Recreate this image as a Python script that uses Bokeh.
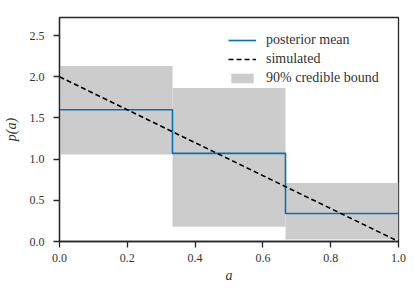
from bokeh.plotting import figure
from bokeh.models import Range1d, FixedTicker, NumeralTickFormatter, Legend, LegendItem
from bokeh.embed import file_html
from bokeh.resources import INLINE

# data
bin_edges = [0.0, 1/3, 2/3, 1.0]
posterior_mean = [1.60, 1.07, 0.34]
bound_lower = [1.055, 0.18, 0.025]
bound_upper = [2.13, 1.865, 0.71]
sim_a = [0.0, 1.0]
sim_p = [2.0, 0.0]
x_ticks = [0.0, 0.2, 0.4, 0.6, 0.8, 1.0]
y_ticks = [0.0, 0.5, 1.0, 1.5, 2.0, 2.5]

FONT = "Liberation Serif"
AXC = "#262626"

p = figure(frame_width=339, frame_height=224, output_backend="svg", toolbar_location=None,
           x_range=Range1d(0, 1), y_range=Range1d(0, 2.72),
           min_border_left=58, min_border_right=10, min_border_top=17, min_border_bottom=45)
p.background_fill_color = "white"
p.border_fill_color = "white"
p.grid.visible = False
p.outline_line_color = AXC
p.outline_line_width = 1.3

band = p.quad(left=bin_edges[:-1], right=bin_edges[1:], bottom=bound_lower, top=bound_upper,
              fill_color="#cccccc", line_color=None)
mean = p.step(x=bin_edges, y=posterior_mean + [posterior_mean[-1]], mode="after",
              line_color="#0173b2", line_width=1.6)
sim = p.line(x=sim_a, y=sim_p, line_color="black", line_width=1.6, line_dash="5 3")

for ax in (p.xaxis[0], p.yaxis[0]):
    ax.axis_line_color = AXC
    ax.axis_line_width = 1.3
    ax.major_tick_line_color = AXC
    ax.major_tick_line_width = 1.3
    ax.major_tick_out = 6
    ax.major_tick_in = 0
    ax.minor_tick_line_color = None
    ax.major_label_text_font = FONT
    ax.major_label_text_font_size = "12px"
    ax.major_label_text_color = "#333333"
    ax.axis_label_text_font = FONT
    ax.axis_label_text_font_style = "italic"
    ax.axis_label_text_font_size = "14px"
    ax.axis_label_text_color = "#333333"
    ax.formatter = NumeralTickFormatter(format="0.0")

p.xaxis.ticker = FixedTicker(ticks=x_ticks)
p.yaxis.ticker = FixedTicker(ticks=y_ticks)
p.xaxis.axis_label = "a"
p.yaxis.axis_label = "p(a)"
p.xaxis.major_label_standoff = 6
p.yaxis.major_label_standoff = 9
p.xaxis.axis_label_standoff = 3
p.yaxis.axis_label_standoff = 8

legend = Legend(items=[LegendItem(label="posterior mean", renderers=[mean]),
                       LegendItem(label="simulated", renderers=[sim]),
                       LegendItem(label="90% credible bound", renderers=[band])],
                location=(169, 154))
legend.border_line_color = None
legend.background_fill_alpha = 0
legend.label_text_font = FONT
legend.label_text_font_size = "14px"
legend.label_text_color = "#333333"
legend.glyph_width = 28
legend.glyph_height = 12
legend.label_height = 19
legend.spacing = 0
legend.padding = 3
legend.margin = 0
legend.label_standoff = 10
p.add_layout(legend)

open("out.html", "w").write(file_html(p, INLINE))
